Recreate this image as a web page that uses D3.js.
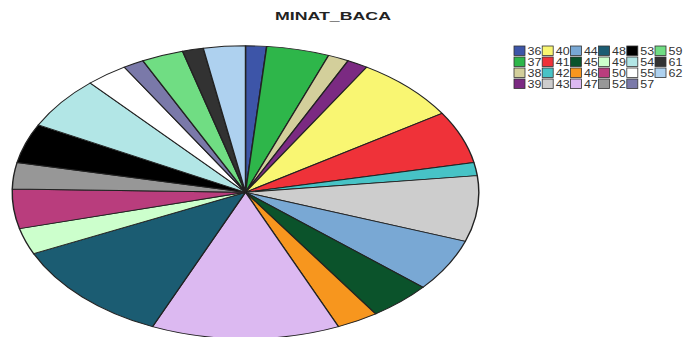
<!DOCTYPE html>
<html><head><meta charset="utf-8">
<script src="https://cdn.jsdelivr.net/npm/d3@7"></script>
<style>body{margin:0;background:#fff}svg{display:block}</style>
</head><body>
<script>
const title = "MINAT_BACA";
const categories = ["36","37","38","39","40","41","42","43","44","45","46","47","48","49","50","52","53","54","55","57","59","61","62"];
const values = [1,3,1,1,5,4,1,5,4,3,2,9,8,2,3,2,3,4,2,1,2,1,2];
const colors = ["#3d55a8","#2eb64a","#d3cf9b","#7b2a82","#f9f672","#ef3239","#47c3c6","#cdcdcd","#79a8d4","#0b532b","#f7961e","#dcb9f1","#1b5c72","#ccffcc","#b93d7d","#979797","#000000","#b2e6e6","#ffffff","#7a79a9","#70dd83","#323232","#aed1ef"];

const W = 683, H = 337;
const svg = d3.select("body").append("svg").attr("width", W).attr("height", H);

// title
svg.append("text")
  .attr("transform", "translate(333,19.5) scale(1.57,1)")
  .attr("text-anchor", "middle")
  .attr("font-family", "Liberation Sans, Arial, sans-serif")
  .attr("font-weight", "bold").attr("font-size", 11.3)
  .attr("fill", "#222").text(title);

// pie (drawn as circle, stretched horizontally)
const cx = 245.5, cy = 192.3, ry = 146.5, sx = 233.3 / 146.5;
const data = categories.map((c, i) => ({cat: c, value: values[i], color: colors[i]}));
const pie = d3.pie().sort(null).value(d => d.value);
const arc = d3.arc().innerRadius(0).outerRadius(ry);
const g = svg.append("g").attr("transform", `translate(${cx},${cy}) scale(${sx},1)`);
g.selectAll("path").data(pie(data)).join("path")
  .attr("d", arc)
  .attr("fill", d => d.data.color)
  .attr("stroke", "#222").attr("stroke-width", 0.9)
  .attr("stroke-linejoin", "round");

// legend: 4 rows, columns left to right
const rows = 4, colW = 28.2, rowH = 11, lx = 514, ly = 46;
const color = d3.scaleOrdinal().domain(categories).range(colors);
const leg = svg.append("g");
categories.forEach((c, i) => {
  const col = Math.floor(i / rows), row = i % rows;
  const x = lx + col * colW, y = ly + row * rowH;
  leg.append("rect").attr("x", x).attr("y", y).attr("width", 11).attr("height", 9.5)
    .attr("fill", color(c)).attr("stroke", "#333").attr("stroke-width", 0.8);
  leg.append("text").attr("transform", `translate(${x + 13.5},${y + 8.5}) scale(1.25,1)`)
    .attr("font-family", "Liberation Sans, Arial, sans-serif")
    .attr("font-size", 10).attr("fill", "#333").text(c);
});
// boxes on top so that the next column's boxes cover overflowing labels
leg.selectAll("rect").raise();
</script>
</body></html>
